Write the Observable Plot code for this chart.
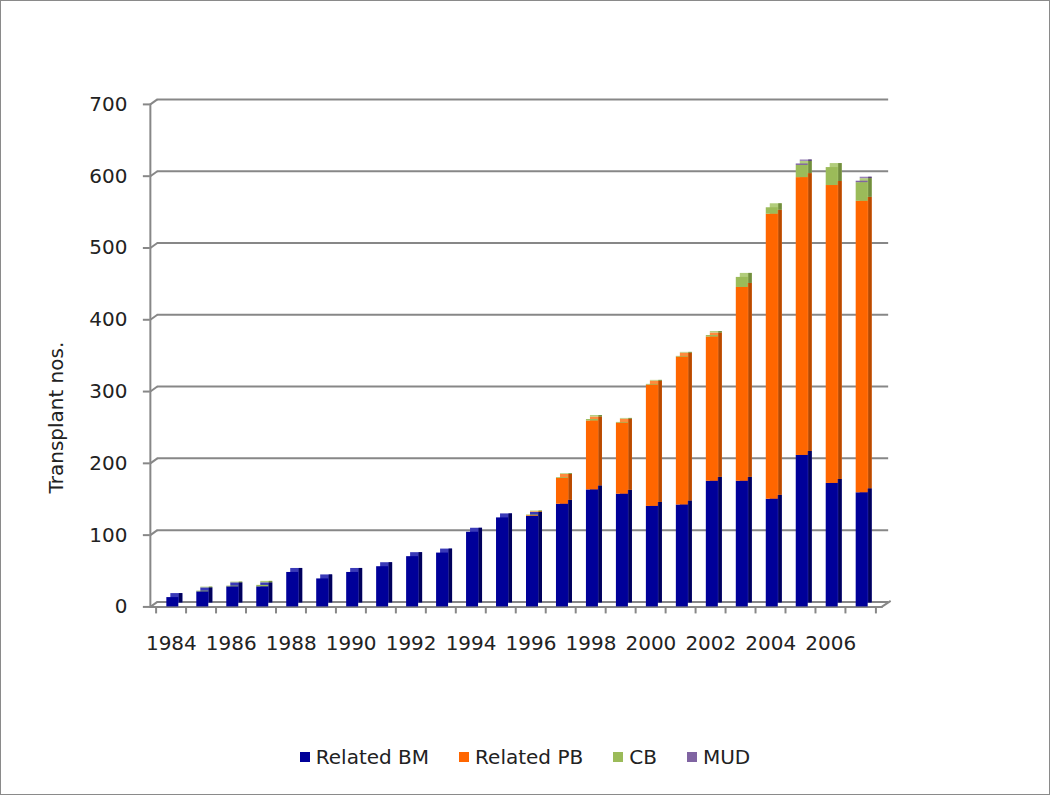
<!DOCTYPE html>
<html>
<head>
<meta charset="utf-8">
<script src="https://cdn.jsdelivr.net/npm/d3@7"></script>
<script src="https://cdn.jsdelivr.net/npm/@observablehq/plot@0.6"></script>
<style>
  html, body { margin: 0; padding: 0; background: #fff; }
  #wrap { position: relative; width: 1048px; height: 793px; border: 1px solid #8a8a8a; overflow: hidden; font-family: "DejaVu Sans", sans-serif; }
  #chart { position: absolute; left: -1px; top: -1px; }
  #legend { position: absolute; top: 744px; left: 0; width: 1048px; display: flex; justify-content: center; gap: 30px; font-size: 20px; color: #222; }
  .item { display: flex; align-items: center; gap: 6px; }
  .sw { width: 10px; height: 10px; display: inline-block; }
</style>
</head>
<body>
<div id="wrap"><div id="chart"></div><div id="legend"></div></div>
<script>
const years = [1984,1985,1986,1987,1988,1989,1990,1991,1992,1993,1994,1995,1996,1997,1998,1999,2000,2001,2002,2003,2004,2005,2006,2007];
const relatedBM = [13,21,28,28,48,39,48,56,70,75,104,124,126,143,163,157,140,142,175,175,150,211,172,159];
const relatedPB = [0,0,0,0,0,0,0,0,0,0,0,0,1,36,96,99,169,206,201,270,397,387,415,406];
const cb        = [0,1,1,2,0,0,0,0,0,0,0,0,1,1,2,1,1,1,2,14,9,17,25,26];
const mud       = [0,0,0,0,0,0,0,0,0,0,0,0,0,0,0,0,0,0,0,0,0,2,0,2];
const seriesNames = ["Related BM","Related PB","CB","MUD"];
const yTicks = [0,100,200,300,400,500,600,700];
const xLabels = [1984,1986,1988,1990,1992,1994,1996,1998,2000,2002,2004,2006];
const yTitle = "Transplant nos.";

const frontColor = {"Related BM":"#000099","Related PB":"#FF6600","CB":"#9BBB59","MUD":"#8064A2"};
const sideColor  = {"Related BM":"#00005c","Related PB":"#b84a00","CB":"#718d3e","MUD":"#5a4675"};
const topColor   = {"Related BM":"#3a3ab8","Related PB":"#ff8a3d","CB":"#b2cd7c","MUD":"#9a82b8"};
const seriesVals = [relatedBM, relatedPB, cb, mud];

const data = [];
years.forEach((yr, i) => {
  seriesNames.forEach((s, k) => data.push({year: yr, type: s, value: seriesVals[k][i]}));
});

const grid = "#878787";
const slant = {draw(ctx) { ctx.moveTo(0, 0); ctx.lineTo(7, -5); }};
const slantR = {draw(ctx) { ctx.moveTo(0, 0); ctx.lineTo(9, -6); }};

const IL = 10.5, IR = 7.5, D = 4;

const chart = Plot.plot({
  width: 1050,
  height: 720,
  marginLeft: 150,
  marginRight: 168,
  marginTop: 104,
  marginBottom: 113,
  style: {fontFamily: "DejaVu Sans, sans-serif", fontSize: "20px", color: "#222", background: "transparent"},
  x: {type: "band", domain: years, padding: 0},
  y: {domain: [0, 700]},
  marks: [
    // back-wall gridlines
    Plot.ruleY(yTicks, {y: d => d, dx: 7, dy: -5, stroke: grid, strokeWidth: 2}),
    Plot.dot(yTicks, {y: d => d, frameAnchor: "left", symbol: slant, stroke: grid, strokeWidth: 2, r: 3}),
    Plot.dot([0], {y: d => d, frameAnchor: "right", symbol: slantR, stroke: grid, strokeWidth: 2, r: 3}),
    Plot.frame({anchor: "left", stroke: grid, strokeWidth: 2}),
    Plot.frame({anchor: "bottom", stroke: grid, strokeWidth: 2}),
    // bar top faces
    Plot.barY(data, {x: "year", y: "value", fill: d => topColor[d.type], insetLeft: IL, insetRight: IR, dx: D, dy: -D, filter: d => d.value > 0}),
    // bar side faces
    Plot.barY(data, {x: "year", y: "value", fill: d => sideColor[d.type], insetLeft: 30.5 - IR, insetRight: IR - D, dy: -D, filter: d => d.value > 0}),
    // bar front faces
    Plot.barY(data, {x: "year", y: "value", fill: d => frontColor[d.type], insetLeft: IL, insetRight: IR, filter: d => d.value > 0}),
    // axes
    Plot.axisY({ticks: yTicks, tickSize: 7, tickPadding: 16, stroke: grid, strokeWidth: 2, fill: "#222", label: null}),
    Plot.text([yTitle], {text: d => d, frameAnchor: "left", textAnchor: "middle", dx: -94, dy: 62, rotate: -90, fill: "#222", fontSize: 20}),
    Plot.axisX({ticks: years, tickSize: 7, tickFormat: () => "", dx: -15.25, stroke: grid, strokeWidth: 2, label: null}),
    Plot.axisX({ticks: [2007], tickSize: 7, tickFormat: () => "", dx: 15.25, stroke: grid, strokeWidth: 2, label: null}),
    Plot.axisX({ticks: xLabels, tickSize: 0, tickPadding: 29, tickFormat: d => String(d), fill: "#222", label: null})
  ]
});
document.getElementById("chart").appendChild(chart);

const legend = document.getElementById("legend");
seriesNames.forEach(s => {
  const it = document.createElement("div");
  it.className = "item";
  it.innerHTML = `<span class="sw" style="background:${frontColor[s]}"></span><span>${s}</span>`;
  legend.appendChild(it);
});
</script>
</body>
</html>
